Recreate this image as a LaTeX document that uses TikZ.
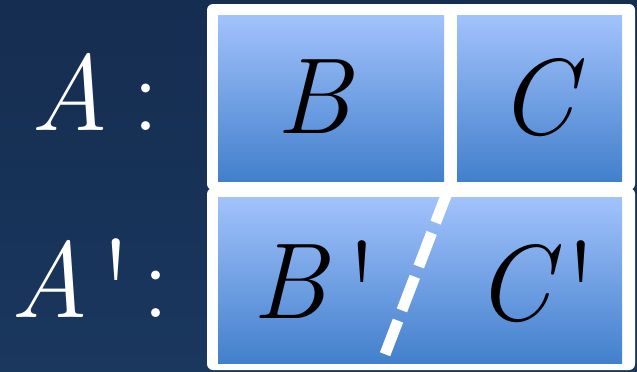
\documentclass[tikz,border=0pt]{standalone}
\usepackage{fontspec}
\definecolor{bgtop}{RGB}{21,45,80}
\definecolor{bgbot}{RGB}{26,55,94}
\definecolor{boxtop}{RGB}{162,194,252}
\definecolor{boxbot}{RGB}{66,128,204}
\begin{document}
\begin{tikzpicture}[x=1pt,y=-1pt,
  bluebox/.style={inner sep=0pt, top color=boxtop, bottom color=boxbot, draw=none},
  whitebox/.style={fill=white, rounded corners=6pt},
  big/.style={font=\fontsize{108}{120}\selectfont\itshape, inner sep=0pt, anchor=base},
  primemark/.style={font=\fontsize{150}{160}\selectfont, inner sep=0pt, anchor=north},
  colonmark/.style={font=\fontsize{108}{120}\selectfont, inner sep=0pt, anchor=base, text=white},
  lbl/.style={big, text=white},
  dark/.style={big, text=black}]
\useasboundingbox (0,0) rectangle (637,372);
\shade[top color=bgtop, bottom color=bgbot] (0,0) rectangle (637,372);
\fill[whitebox] (207,4) rectangle (635,190);
\fill[whitebox] (207,188) rectangle (635,370);
\node[bluebox, minimum width=226pt, minimum height=166pt] (bbox) at (331,98) {};
\node[bluebox, minimum width=165pt, minimum height=166pt] (cbox) at (539.5,98) {};
\node[bluebox, minimum width=404pt, minimum height=166pt] (bcbox) at (420,280) {};
\coordinate (dtop) at (448.5,189);
\coordinate (dbot) at (384,357);
\draw[white, line width=11pt, dash pattern=on 36pt off 11pt] (dtop) -- (dbot);
\node[lbl] (a) at (70,130) {A};
\node[colonmark] (acol) at (146,130) {:};
\node[lbl] (ap) at (50,317) {A};
\node[primemark, text=white] (apr) at (116.5,238) {\textquotesingle};
\node[colonmark] (apcol) at (156,317) {:};
\node[dark] (b) at (314,133) {B};
\node[dark] (c) at (536,134) {C};
\node[dark] (bp) at (290,318) {B};
\node[primemark, text=black] (bpr) at (362,240) {\textquotesingle};
\node[dark] (cp) at (513,320) {C};
\node[primemark, text=black] (cpr) at (581,240) {\textquotesingle};
\end{tikzpicture}
\end{document}
